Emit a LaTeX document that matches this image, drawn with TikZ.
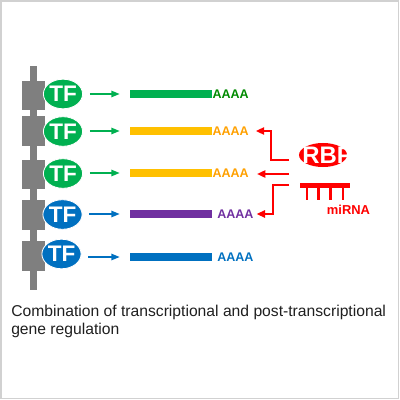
\documentclass[tikz,border=0pt]{standalone}
\usepackage{fontspec}
\setmainfont{Liberation Sans}
\usetikzlibrary{positioning, arrows.meta, shapes.geometric}

\definecolor{chrom}{HTML}{7F7F7F}
\definecolor{tfgreen}{HTML}{00B050}
\definecolor{tfblue}{HTML}{0070C0}
\definecolor{mgold}{HTML}{FFC000}
\definecolor{mpurple}{HTML}{7030A0}
\definecolor{agreen}{HTML}{008A00}
\definecolor{aorange}{HTML}{FFA000}
\definecolor{rnared}{HTML}{FF0000}

\begin{document}
\begin{tikzpicture}[
    x=0.025cm, y=-0.025cm,
    % Styles
    chromblock/.style={rectangle, fill=chrom, minimum width=0.575cm,
        minimum height=0.73cm, inner sep=0pt},
    tf/.style={ellipse, draw=white, line width=0.6pt, minimum width=0.98cm,
        minimum height=0.74cm, inner sep=0pt, text=white,
        font=\fontsize{16}{16}\selectfont\bfseries},
    mrna/.style={rectangle, minimum width=2.05cm, minimum height=0.19cm,
        inner sep=0pt},
    polya/.style={inner sep=0pt, font=\fontsize{8.9}{10}\selectfont\bfseries},
    tfarr/.style={-{Triangle[length=2.1mm,width=1.6mm]}, line width=1.1pt,
        shorten <=0.17cm, shorten >=0.25cm},
    redarr/.style={-{Triangle[length=2.1mm,width=1.8mm]}, line width=1.4pt,
        draw=rnared},
    rbp/.style={ellipse, fill=rnared, minimum width=1.2cm,
        minimum height=0.6cm, inner sep=0pt},
    rbplabel/.style={inner sep=0pt, text=white,
        font=\fontsize{17}{17}\selectfont\bfseries},
    mirbar/.style={rectangle, fill=rnared, minimum width=1.25cm,
        minimum height=0.13cm, inner sep=0pt},
    mirtooth/.style={draw=rnared, line width=1.5pt},
    mirlabel/.style={inner sep=0pt, text=rnared,
        font=\fontsize{9.2}{10}\selectfont\bfseries},
    caption/.style={inner sep=0pt, align=left, text=black!88,
        font=\fontsize{11.15}{12.8}\selectfont},
    frame/.style={draw=black!18, line width=1pt},
]
\useasboundingbox (0,0) rectangle (400,400);

% ===== Chromatin backbone =====
\fill[chrom] (30,66) rectangle (36.5,290);
\node[chromblock] (blk1) at (33.5,95.5) {};
\node[chromblock] (blk2) at (33.5,131) {};
\node[chromblock] (blk3) at (33.5,174.5) {};
\node[chromblock] (blk4) at (33.5,215) {};
\node[chromblock] (blk5) at (33.5,256) {};

% ===== Transcription factors =====
\node[tf, fill=tfgreen] (tf1) at (63,94) {TF};
\node[tf, fill=tfgreen] (tf2) at (63,131.5) {TF};
\node[tf, fill=tfgreen] (tf3) at (63,173.5) {TF};
\node[tf, fill=tfblue] (tf4) at (62.5,214.5) {TF};
\node[tf, fill=tfblue] (tf5) at (61.5,254) {TF};

% ===== mRNAs =====
\node[mrna, fill=tfgreen] (bar1) at (171,94) {};
\node[mrna, fill=mgold] (bar2) at (171,131) {};
\node[mrna, fill=mgold] (bar3) at (171,173) {};
\node[mrna, fill=mpurple] (bar4) at (171,214) {};
\node[mrna, fill=tfblue] (bar5) at (171,257) {};

\node[polya, text=agreen, right=0pt of bar1] (poly1) {AAAA};
\node[polya, text=aorange, right=0pt of bar2] (poly2) {AAAA};
\node[polya, text=aorange, right=0pt of bar3] (poly3) {AAAA};
\node[polya, text=mpurple, right=0.12cm of bar4] (poly4) {AAAA};
\node[polya, text=tfblue, right=0.12cm of bar5] (poly5) {AAAA};

% Transcription arrows
\draw[tfarr, tfgreen] (bar1.west -| tf1.east) -- (bar1.west);
\draw[tfarr, tfgreen] (bar2.west -| tf2.east) -- (bar2.west);
\draw[tfarr, tfgreen] (bar3.west -| tf3.east) -- (bar3.west);
\draw[tfarr, tfblue] (bar4.west -| tf4.east) -- (bar4.west);
\draw[tfarr, tfblue] (bar5.west -| tf5.east) -- (bar5.west);

% ===== Post-transcriptional regulators =====
\node[rbp] (rbp) at (323,155) {};
\node[rbplabel] (rbptext) at (327.5,155.5) {RBP};

\node[mirbar] (mir) at (325,185.5) {};
\draw[mirtooth] (307,187) -- (307,200) (318.5,187) -- (318.5,200)
    (330.5,187) -- (330.5,200) (343,187) -- (343,200);
\node[mirlabel] (mirtext) at (348.5,210) {miRNA};

% Regulation arrows
\coordinate (rbpout1) at (289,160);
\coordinate (rbpout2) at (289,174);
\coordinate (rbpout3) at (289,185);
\draw[redarr, shorten >=0.17cm] (rbpout1) -- ++(-18,0) |- (poly2.east);
\draw[redarr, shorten >=0.2cm] (rbpout2) -- (poly3.east |- rbpout2);
\draw[redarr, shorten >=0.07cm] (rbpout3) -- ++(-16,0) |- (poly4.east);

% ===== Caption =====
\node[caption, anchor=north west] (cap) at (11,305)
    {Combination of transcriptional and post-transcriptional\\gene regulation};

\draw[frame] (1,1) rectangle (398.5,398.5);
\end{tikzpicture}
\end{document}
